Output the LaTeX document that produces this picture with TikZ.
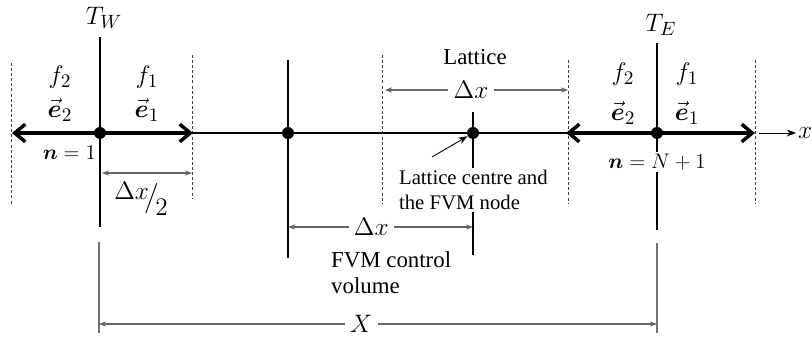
\documentclass[tikz,border=0pt]{standalone}
\usepackage{amsmath}
\usepackage{fontspec}
\setmainfont{Liberation Serif}
\usetikzlibrary{arrows.meta, positioning, calc}

\begin{document}
\begin{tikzpicture}[x=0.02cm, y=-0.02cm, >=Stealth, font=\fontsize{13}{15}\selectfont,
  dot/.style={circle, fill=black, inner sep=0pt, minimum size=0.24cm},
  thickarr/.style={line width=2pt, -{Straight Barb[length=6pt, width=10pt]}},
  bar/.style={line width=1.6pt},
  axisline/.style={line width=0.7pt},
  bnd/.style={dash pattern=on 1.7pt off 1.2pt, line width=0.45pt, black!75},
  dimline/.style={black!60, line width=0.6pt, {Stealth[length=4pt, width=3pt]}-{Stealth[length=4pt, width=3pt]}},
  guide/.style={black!55, line width=0.7pt},
  mth/.style={font=\fontsize{15}{17}\selectfont},
  dimlbl/.style={fill=white, inner sep=3pt, text=black, font=\fontsize{14}{16}\selectfont}]
\useasboundingbox (0,0) rectangle (812,340);

% Lattice boundaries
\draw[bnd] (11,63) -- (11,205);
\draw[bnd] (192,55) -- (192,199);
\draw[bnd] (382,55) -- (382,203);
\draw[bnd] (568,60) -- (568,203);
\draw[bnd] (755,60) -- (755,203);

% Walls and FVM faces
\draw[bar] (100,37) -- (100,227);
\draw[bar] (657,43) -- (657,230);
\draw[axisline] (288,60) -- (288,258);
\draw[axisline] (473,112) -- (473,255);
\draw[guide] (99,242) -- (99,333);
\draw[guide] (657,243) -- (657,333);

% Nodes on the axis
\node[dot] (W) at (100,133) {};
\node[dot] (A) at (288,133) {};
\node[dot] (B) at (473,133) {};
\node[dot] (E) at (657,133) {};
\draw[axisline] (W) -- (A) -- (B) -- (E);

% Velocity directions
\coordinate (Wl) at (12,133);
\coordinate (Wr) at (193,133);
\coordinate (El) at (566,133);
\coordinate (Er) at (755,133);
\draw[thickarr] (W.center) -- (Wl);
\draw[thickarr] (W.center) -- (Wr);
\draw[thickarr] (E.center) -- (El);
\draw[thickarr] (E.center) -- (Er);
\coordinate (xs) at (759,133);
\coordinate (xe) at (796,133);
\draw[->, line width=0.5pt] (xs) -- (xe);
\node[mth, anchor=west, inner sep=1pt] (xlbl) at (xe) {$x$};

% Wall labels
\node[mth] (TW) at (104,18) {$T_W$};
\node[mth] (TE) at (661,25) {$T_E$};
\node[mth] (fW2) at (60,77) {$f_2$};
\node[mth] (eW2) at (60,110) {$\vec{\boldsymbol{e}}_2$};
\node[mth] (fW1) at (147,77) {$f_1$};
\node[mth] (eW1) at (147,110) {$\vec{\boldsymbol{e}}_1$};
\node[mth] (fE2) at (623,74) {$f_2$};
\node[mth] (eE2) at (623,113) {$\vec{\boldsymbol{e}}_2$};
\node[mth] (fE1) at (687,74) {$f_1$};
\node[mth] (eE1) at (687,113) {$\vec{\boldsymbol{e}}_1$};
\node[anchor=east, inner sep=1pt] (nW) at (98,153) {$\boldsymbol{n}=1$};
\node[fill=white, inner sep=1pt] (nE) at (657,162) {$\boldsymbol{n}=N+1$};

% Dimensions
\coordinate (hl) at (102,173);
\coordinate (hr) at (192,173);
\draw[dimline] (hl) -- (hr);
\node[dimlbl, fill=none, inner sep=0pt] (half) at (141,199) {$\raisebox{0.5ex}{$\Delta x$}\!\big/\!\raisebox{-0.9ex}{$2$}$};

\coordinate (ll) at (385,90);
\coordinate (lr) at (568,90);
\draw[dimline] (ll) -- node[dimlbl, pos=0.47] (dxl) {$\Delta x$} (lr);
\node (latt) at (475,57) {Lattice};

\coordinate (vl) at (288,227);
\coordinate (vr) at (473,227);
\draw[dimline] (vl) -- node[dimlbl, pos=0.45] (dxv) {$\Delta x$} (vr);
\node[align=left, anchor=west, font=\fontsize{13}{14.7}\selectfont] (fvm) at (325,273) {FVM control\\volume};

\coordinate (Xl) at (99,324);
\coordinate (Xr) at (657,324);
\draw[dimline] (Xl) -- node[dimlbl, pos=0.47] (Xlbl) {$X$} (Xr);

% Lattice centre note
\node[align=left, anchor=west, fill=white, inner sep=1pt, font=\fontsize{11.8}{14.2}\selectfont] (lc) at (397,190) {Lattice centre and\\the FVM node};
\coordinate (lctip) at (432,157);
\draw[->, line width=0.5pt] (lctip) -- (B);

\end{tikzpicture}
\end{document}
